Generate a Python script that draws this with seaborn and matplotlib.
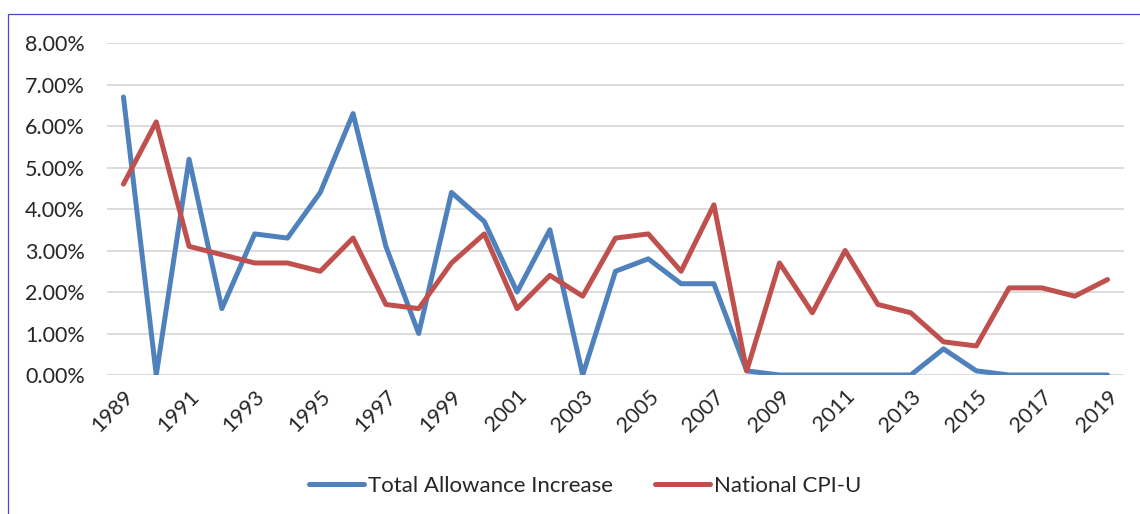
import pandas as pd
import numpy as np
import matplotlib.pyplot as plt
import seaborn as sns
from matplotlib.ticker import PercentFormatter
from matplotlib.patches import Rectangle

# Data (in percent)
years = list(range(1989, 2020))
allowance = [6.7, 0.0, 5.2, 1.6, 3.4, 3.3, 4.4, 6.3, 3.1, 1.0,
             4.4, 3.7, 2.0, 3.5, 0.0, 2.5, 2.8, 2.2, 2.2, 0.1,
             0.0, 0.0, 0.0, 0.0, 0.0, 0.63, 0.1, 0.0, 0.0, 0.0, 0.0]
cpi = [4.6, 6.1, 3.1, 2.9, 2.7, 2.7, 2.5, 3.3, 1.7, 1.6,
       2.7, 3.4, 1.6, 2.4, 1.9, 3.3, 3.4, 2.5, 4.1, 0.1,
       2.7, 1.5, 3.0, 1.7, 1.5, 0.8, 0.7, 2.1, 2.1, 1.9, 2.3]
series_names = ['Total Allowance Increase', 'National CPI-U']
colors = ['#4F81BD', '#C0504D']

df = pd.DataFrame({'Year': years, series_names[0]: allowance, series_names[1]: cpi})
long_df = df.melt(id_vars='Year', var_name='Series', value_name='Value')

sns.set_style('white')
plt.rcParams['font.family'] = ['Lato', 'DejaVu Sans']

fig = plt.figure(figsize=(11.4, 5.14), dpi=100)
ax = fig.add_axes([0.0939, 0.2704, 0.892, 0.6459])

sns.lineplot(data=long_df, x='Year', y='Value', hue='Series', palette=colors,
             linewidth=3.6, ax=ax, legend=False)
for ln in ax.lines:
    ln.set_solid_capstyle('round')
    ln.set_solid_joinstyle('round')

ax.set_xlim(1988.5, 2019.5)
ax.set_ylim(0, 8)
ax.set_yticks(np.arange(0, 9, 1))
ax.yaxis.set_major_formatter(PercentFormatter(decimals=2))
ax.set_xticks(years[::2])
ax.set_xticklabels([str(y) for y in years[::2]], rotation=45, ha='right',
                   rotation_mode='anchor', fontsize=15.5)
ax.tick_params(axis='y', labelsize=15.5, pad=16, length=0)
ax.tick_params(axis='x', pad=8, length=0)
ax.grid(axis='y', color='#D9D9D9', linewidth=1.3)
ax.set_axisbelow(True)
for s in ax.spines.values():
    s.set_visible(False)
ax.set_xlabel('')
ax.set_ylabel('')

# legend
handles = [plt.Line2D([], [], color=c, linewidth=3.6, solid_capstyle='round') for c in colors]
fig.legend(handles, series_names, loc='center', bbox_to_anchor=(0.513, 0.054), ncol=2,
           frameon=False, fontsize=16, handlelength=2.5, handletextpad=0.15, columnspacing=1.9)

# thin outer frame
fig.patches.append(Rectangle((8 / 1140, -0.1), 1.2, 0.1 + (1 - 14 / 514), transform=fig.transFigure,
                             fill=False, edgecolor='#4A4ACD', linewidth=0.9))

fig.savefig('out.png', dpi=100)
